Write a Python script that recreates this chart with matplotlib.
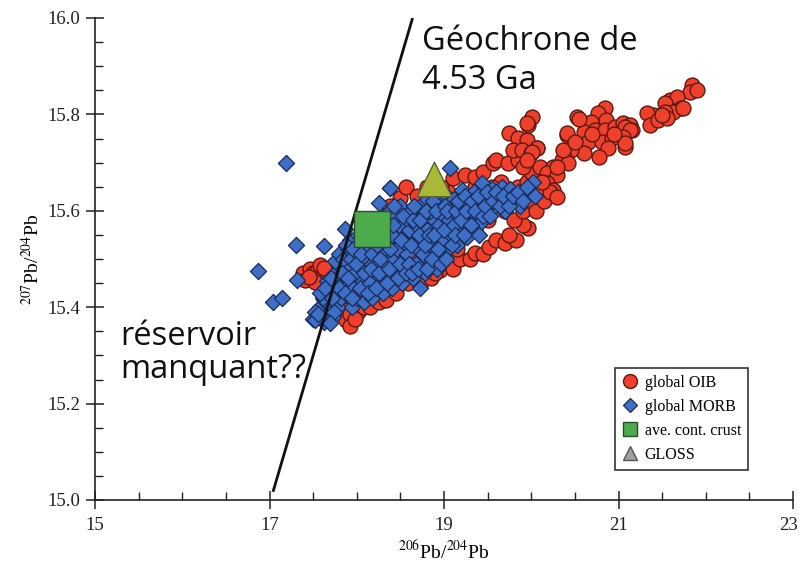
import matplotlib
matplotlib.use("Agg")
import matplotlib.pyplot as plt
from matplotlib.lines import Line2D
from matplotlib.transforms import ScaledTranslation
from matplotlib.ticker import FixedLocator, MultipleLocator, FormatStrFormatter

plt.rcParams["font.family"] = ["Liberation Serif", "DejaVu Serif"]
plt.rcParams["mathtext.fontset"] = "stix"

# ---- data: 206Pb/204Pb (x) and 207Pb/204Pb (y) ----
oib_x = [
    # left tail and base
    17.38, 17.41, 17.46, 17.50, 17.55, 17.60, 17.66, 17.52, 17.58, 17.63, 17.70, 17.45,
    17.73, 17.80, 17.85, 17.88, 17.92, 18.01, 18.08, 18.15, 18.25, 18.34, 18.45, 18.59,
    17.92, 17.98,
    # lower edge
    18.72, 18.85, 18.95, 19.03, 19.10, 19.18, 19.30, 19.35, 19.45, 19.52, 19.60, 19.70,
    19.83, 19.96, 19.90, 19.75, 19.15, 18.90,
    # interior (mostly hidden)
    17.90, 18.00, 18.10, 18.20, 18.30, 18.40, 18.50, 18.60, 18.70, 18.80, 18.90, 19.00,
    19.10, 19.20, 19.30, 19.40, 19.50, 18.75, 19.05, 19.35,
    # upper edge
    18.25, 18.30, 18.34, 18.38, 18.46, 18.50, 18.57, 18.62, 18.69, 18.80, 18.97, 19.10,
    19.24, 19.35, 19.45, 19.56, 19.60, 19.73, 19.85,
    # right of the MORB field
    19.50, 19.60, 19.70, 19.80, 19.90, 20.00, 20.05, 19.75, 19.85, 19.95, 20.10, 19.65,
    19.55, 20.00, 19.90, 20.10, 20.15, 19.45,
    # upward scatter near 20
    19.75, 19.85, 19.95, 19.79, 19.89, 20.07, 20.00, 20.01, 19.96, 19.95, 20.07, 20.01,
    19.95,
    # 20.1 - 21.2 field
    20.53, 20.84, 20.76, 20.69, 20.86, 20.61, 20.73, 20.84, 20.96, 21.05, 21.13, 20.41,
    20.50, 20.65, 20.81, 20.92, 21.05, 21.15, 21.07, 20.88, 20.78, 20.61, 20.46, 20.38,
    20.35, 20.42, 20.25, 20.18, 20.29, 20.18, 20.25, 20.21, 20.29, 20.36, 20.30, 20.12,
    20.41, 20.50, 21.07, 21.13, 21.05, 21.07, 20.70, 20.95, 20.55,
    # 21.3 - 21.95 field
    21.84, 21.82, 21.90, 21.59, 21.67, 21.53, 21.72, 21.62, 21.53, 21.41, 21.33, 21.36,
    21.45, 21.56, 21.74, 21.50,
]
oib_y = [
    15.470, 15.456, 15.480, 15.470, 15.475, 15.460, 15.470, 15.452, 15.488, 15.482, 15.455, 15.462,
    15.394, 15.410, 15.395, 15.373, 15.385, 15.390, 15.400, 15.400, 15.410, 15.415, 15.430, 15.450,
    15.360, 15.375,
    15.446, 15.460, 15.477, 15.512, 15.480, 15.500, 15.500, 15.512, 15.510, 15.525, 15.540, 15.533,
    15.539, 15.564, 15.570, 15.550, 15.520, 15.470,
    15.440, 15.450, 15.420, 15.500, 15.440, 15.520, 15.470, 15.550, 15.500, 15.580, 15.530, 15.600,
    15.550, 15.620, 15.560, 15.600, 15.580, 15.620, 15.640, 15.650,
    15.550, 15.570, 15.600, 15.610, 15.600, 15.627, 15.650, 15.600, 15.630, 15.650, 15.650, 15.668,
    15.674, 15.670, 15.680, 15.700, 15.705, 15.700, 15.705,
    15.600, 15.620, 15.600, 15.580, 15.600, 15.620, 15.600, 15.640, 15.650, 15.660, 15.640, 15.660,
    15.650, 15.680, 15.690, 15.690, 15.620, 15.640,
    15.761, 15.751, 15.747, 15.726, 15.726, 15.730, 15.720, 15.795, 15.778, 15.782, 15.730, 15.722,
    15.705,
    15.795, 15.813, 15.803, 15.784, 15.788, 15.763, 15.768, 15.768, 15.774, 15.782, 15.778, 15.757,
    15.741, 15.743, 15.743, 15.751, 15.753, 15.768, 15.732, 15.730, 15.712, 15.720, 15.726, 15.712,
    15.705, 15.700, 15.690, 15.678, 15.674, 15.658, 15.643, 15.639, 15.629, 15.726, 15.690, 15.660,
    15.761, 15.743, 15.774, 15.768, 15.753, 15.741, 15.760, 15.760, 15.790,
    15.861, 15.846, 15.851, 15.830, 15.836, 15.824, 15.813, 15.805, 15.805, 15.799, 15.803, 15.778,
    15.788, 15.793, 15.813, 15.799,
]

morb_x = [
    17.50, 17.55, 17.58, 17.52, 17.62, 17.66, 17.70, 17.63, 17.68, 17.61, 17.72, 17.66,
    17.75, 17.78, 17.75, 17.80, 17.73, 17.78, 17.82, 17.76, 17.85, 17.80, 17.88, 17.84,
    17.90, 17.86, 17.92,
    17.95, 18.00, 17.97, 18.03, 17.98, 18.05, 18.00, 18.06, 18.02, 18.08, 18.10, 18.12,
    18.10, 18.14, 18.12,
    18.18, 18.20, 18.22, 18.17, 18.24, 18.20, 18.26, 18.22, 18.28, 18.26, 18.30, 18.32,
    18.34, 18.30, 18.36, 18.33, 18.38,
    18.40, 18.44, 18.42, 18.46, 18.40, 18.48, 18.44, 18.50, 18.52, 18.55, 18.58, 18.54,
    18.60, 18.56, 18.62, 18.38,
    18.65, 18.68, 18.72, 18.70, 18.74, 18.68, 18.76, 18.72, 18.80, 18.78, 18.82, 18.85,
    18.80, 18.88, 18.84,
    18.92, 18.95, 18.98, 18.94, 19.00, 18.96, 19.03, 19.05, 19.08, 19.06, 19.10, 19.12,
    19.07,
    19.15, 19.18, 19.22, 19.20, 19.21, 19.26, 19.28, 19.30, 19.27, 19.34,
    19.35, 19.38, 19.41, 19.42, 19.44, 19.46, 19.50, 19.52, 19.55, 19.58,
    19.62, 19.66, 19.72, 19.76, 19.82, 19.87, 19.92, 20.02, 20.04, 19.70,
    # second pass through the dense field
    17.58, 17.64, 17.70, 17.72, 17.74, 17.80, 17.83, 17.86, 17.90, 17.93, 17.88, 17.96,
    17.94, 17.99, 18.04, 18.05, 18.08, 18.07, 18.15, 18.16, 18.13, 18.18, 18.22, 18.25,
    18.27, 18.23, 18.28, 18.31, 18.35, 18.37, 18.38, 18.41, 18.43, 18.47, 18.49, 18.51,
    18.53, 18.57, 18.60, 18.62, 18.64, 18.66, 18.63, 18.70, 18.71, 18.73, 18.76, 18.78,
    18.79, 18.81, 18.83, 18.86, 18.87, 18.89, 18.91, 18.93, 18.97, 19.00, 19.01, 19.02,
    19.04, 19.09, 19.11, 19.14, 19.13, 19.16, 19.19, 19.23, 19.24, 19.25, 19.31, 19.32,
    19.36, 19.39, 19.40, 19.45, 19.47, 19.49, 19.53, 19.56, 19.60, 19.64, 19.68, 19.74,
    19.79, 19.85, 19.90, 19.95,
    # isolated samples
    17.19, 17.30, 16.87, 17.31, 17.04, 17.14, 17.63, 17.52, 17.69, 17.56, 18.38,
]
morb_y = [
    15.375, 15.385, 15.400, 15.390, 15.370, 15.385, 15.400, 15.415, 15.430, 15.420, 15.445, 15.455,
    15.470, 15.490, 15.495, 15.510, 15.380, 15.400, 15.420, 15.430, 15.450, 15.460, 15.480, 15.500,
    15.520, 15.562, 15.540,
    15.400, 15.420, 15.440, 15.460, 15.470, 15.490, 15.510, 15.530, 15.550, 15.410, 15.440, 15.470,
    15.500, 15.520, 15.545,
    15.420, 15.450, 15.480, 15.490, 15.510, 15.530, 15.550, 15.570, 15.590, 15.616, 15.430, 15.460,
    15.490, 15.520, 15.540, 15.570, 15.600,
    15.440, 15.470, 15.500, 15.520, 15.550, 15.570, 15.590, 15.610, 15.450, 15.480, 15.510, 15.535,
    15.560, 15.585, 15.600, 15.647,
    15.460, 15.490, 15.440, 15.520, 15.540, 15.570, 15.590, 15.610, 15.625, 15.470, 15.500, 15.530,
    15.560, 15.580, 15.600,
    15.480, 15.510, 15.540, 15.570, 15.590, 15.615, 15.630, 15.520, 15.550, 15.580, 15.600, 15.625,
    15.689,
    15.530, 15.560, 15.585, 15.610, 15.643, 15.546, 15.570, 15.600, 15.625, 15.640,
    15.560, 15.590, 15.575, 15.610, 15.658, 15.630, 15.600, 15.625, 15.645, 15.610,
    15.630, 15.650, 15.630, 15.645, 15.625, 15.610, 15.640, 15.660, 15.630, 15.600,
    15.430, 15.440, 15.460, 15.420, 15.390, 15.440, 15.470, 15.430, 15.460, 15.500, 15.530, 15.520,
    15.420, 15.490, 15.440, 15.510, 15.470, 15.560, 15.450, 15.480, 15.430, 15.510, 15.440, 15.470,
    15.500, 15.530, 15.560, 15.580, 15.450, 15.480, 15.520, 15.570, 15.610, 15.460, 15.490, 15.540,
    15.590, 15.470, 15.490, 15.530, 15.580, 15.610, 15.470, 15.480, 15.550, 15.580, 15.510, 15.530,
    15.600, 15.480, 15.550, 15.500, 15.620, 15.550, 15.600, 15.520, 15.490, 15.560, 15.610, 15.500,
    15.600, 15.530, 15.570, 15.600, 15.550, 15.620, 15.580, 15.550, 15.630, 15.600, 15.570, 15.620,
    15.600, 15.630, 15.550, 15.590, 15.610, 15.640, 15.590, 15.620, 15.640, 15.610, 15.630, 15.610,
    15.630, 15.640, 15.620, 15.650,
    15.700, 15.530, 15.475, 15.456, 15.410, 15.420, 15.527, 15.373, 15.367, 15.385, 15.647,
]

crust_x, crust_y = [18.17], [15.562]
gloss_x, gloss_y = [18.88], [15.666]

geochron_x = [17.04, 18.64]
geochron_y = [15.017, 16.00]

xticks = [15, 17, 19, 21, 23]

# ---- figure ----
fig = plt.figure(figsize=(7.99, 5.63), dpi=100)
ax = fig.add_axes([95 / 799, 63 / 563, 698 / 799, 482 / 563])

red, red_edge = "#f0402c", "#5c1a12"
blue, blue_edge = "#3d6fc6", "#1c2a55"
green = "#4cab4c"
olive = "#aab83a"

ax.scatter(oib_x, oib_y, s=115, marker="o", c=red, edgecolors=red_edge,
           linewidths=1.0, zorder=2)
ax.scatter(morb_x, morb_y, s=68, marker="D", c=blue, edgecolors=blue_edge,
           linewidths=0.9, zorder=3)
ax.plot(geochron_x, geochron_y, color="#111111", lw=2.0, zorder=4,
        solid_capstyle="butt")
ax.scatter(crust_x, crust_y, s=640, marker="s", c=green, edgecolors="#2d4a2d",
           linewidths=1.0, zorder=5)
ax.scatter(gloss_x, gloss_y, s=620, marker="^", c=olive, edgecolors="#5a6030",
           linewidths=1.0, zorder=5)

ax.set_xlim(15, 23)
ax.set_ylim(15.0, 16.0)
ax.xaxis.set_major_locator(FixedLocator(xticks))
ax.xaxis.set_minor_locator(MultipleLocator(0.5))
ax.yaxis.set_major_locator(MultipleLocator(0.2))
ax.yaxis.set_minor_locator(MultipleLocator(0.05))
ax.yaxis.set_major_formatter(FormatStrFormatter("%.1f"))

for side in ("top", "right"):
    ax.spines[side].set_visible(False)
for side in ("left", "bottom"):
    ax.spines[side].set_linewidth(1.2)
    ax.spines[side].set_color("#222222")

ax.tick_params(which="major", direction="inout", length=13, width=1.1,
               labelsize=13.5, colors="#222222", pad=4)
ax.tick_params(which="minor", direction="in", length=6, width=1.0, colors="#222222")
ax.tick_params(axis="x", which="major", pad=6)

# nudge the last x tick label so it stays inside the canvas
fig.canvas.draw()
last = ax.get_xticklabels()[-1]
last.set_transform(last.get_transform() + ScaledTranslation(-4 / 100, 0, fig.dpi_scale_trans))

ax.set_xlabel(r"$^{206}$Pb/$^{204}$Pb", fontsize=14, labelpad=4)
ax.set_ylabel(r"$^{207}$Pb/$^{204}$Pb", fontsize=14, labelpad=3)

# annotations
sans = ["Open Sans", "DejaVu Sans"]
ax.text(18.746, 15.934, "Géochrone de", family=sans, fontsize=23.5,
        va="baseline", ha="left", color="#111111")
ax.text(18.746, 15.853, "4.53 Ga", family=sans, fontsize=23.5,
        va="baseline", ha="left", color="#111111")
ax.text(15.286, 15.322, "réservoir", family=sans, fontsize=23.5,
        va="baseline", ha="left", color="#111111")
ax.text(15.286, 15.253, "manquant??", family=sans, fontsize=23.5,
        va="baseline", ha="left", color="#111111")

handles = [
    Line2D([], [], ls="none", marker="o", ms=10, mfc=red, mec=red_edge, mew=1.0),
    Line2D([], [], ls="none", marker="D", ms=7.5, mfc=blue, mec=blue_edge, mew=0.9),
    Line2D([], [], ls="none", marker="s", ms=9.5, mfc=green, mec="#2d4a2d", mew=1.0),
    Line2D([], [], ls="none", marker="^", ms=10, mfc="#a0a0a0", mec="#555555", mew=1.0),
]
labels = ["global OIB", "global MORB", "ave. cont. crust", "GLOSS"]
leg = ax.legend(handles, labels, loc="lower left", bbox_to_anchor=(0.745, 0.062),
                fontsize=11.5, frameon=True, fancybox=False, framealpha=1,
                edgecolor="#333333", handlelength=1.0, handletextpad=0.4,
                borderpad=0.45, labelspacing=0.5, borderaxespad=0)
leg.get_frame().set_linewidth(1.2)

fig.savefig("out.png", dpi=100)
